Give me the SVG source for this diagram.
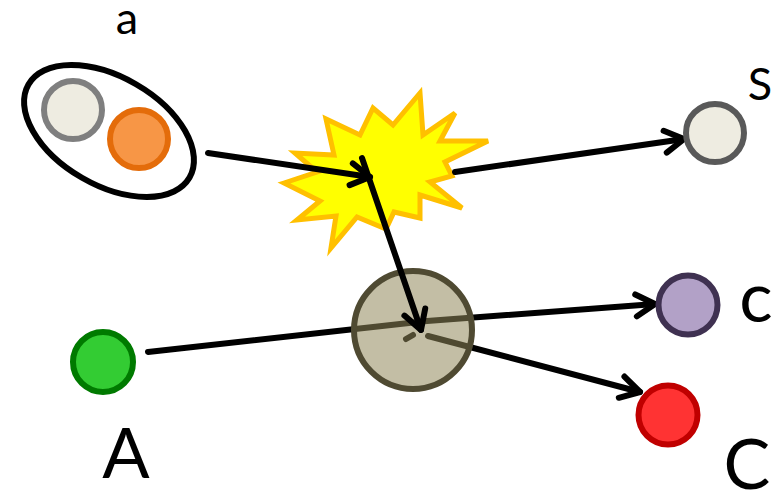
<svg xmlns="http://www.w3.org/2000/svg" width="784" height="495" viewBox="0 0 784 495">
  <style>
    .conn { fill: none; stroke: #000; stroke-width: 6; stroke-linecap: round; stroke-linejoin: round; }
    .ball { stroke-width: 6; }
    .lbl { font-family: Lato, "Open Sans", "Liberation Sans", sans-serif; fill: #000; text-anchor: middle; }
    .small { font-size: 45px; }
    .big { font-size: 70px; }
  </style>
  <defs>
    <marker id="arrow" markerUnits="userSpaceOnUse" markerWidth="40" markerHeight="40" refX="0" refY="0" viewBox="-30 -20 40 40" orient="auto" overflow="visible">
      <path d="M -19 -11 L 0 0 L -19 11" fill="none" stroke="#000" stroke-width="6" stroke-linecap="round" stroke-linejoin="round"/>
    </marker>
  </defs>

  <rect width="784" height="495" fill="#fff"/>

  <!-- projectile pair -->
  <g id="node-a">
    <ellipse cx="109" cy="131" rx="93" ry="54" transform="rotate(30 109 131)" fill="#fff" stroke="#000" stroke-width="6"/>
    <circle class="ball" cx="73" cy="110" r="29" fill="#EEECE1" stroke="#7F7F7F"/>
    <circle class="ball" cx="139" cy="139" r="29" fill="#F79646" stroke="#E46C0A"/>
    <text class="lbl small" x="127" y="34">a</text>
  </g>

  <!-- collision burst -->
  <g id="node-burst">
    <polygon points="284,183 317,172 295,153 334,155 326,119 360,135 373,108 393,125 420,93 423,135 455,113 440,141 488,141 445,162 452,176 430,182 462,208 420,195 420,218 394,212 386,229 357,217 331,248 336,216 297,220 320,201" fill="#FFFF00" stroke="#FFC000" stroke-width="5" stroke-linejoin="miter"/>
  </g>

  <!-- connectors passing beneath the compound nucleus -->
  <g id="connectors-under">
    <path class="conn" d="M 148 352 L 427 321 L 655 304" marker-end="url(#arrow)"/>
    <path class="conn" d="M 428 336 L 640 392" marker-end="url(#arrow)"/>
    <path class="conn" d="M 406 339 L 413 335"/>
  </g>

  <!-- compound nucleus -->
  <g id="node-compound">
    <circle cx="413" cy="330" r="59" fill="#918859" fill-opacity="0.545" stroke="#4F4A32" stroke-width="6"/>
  </g>

  <!-- connectors drawn on top -->
  <g id="connectors">
    <path class="conn" d="M 208 153 L 370 177" marker-end="url(#arrow)"/>
    <path class="conn" d="M 362 158 L 421 330" marker-end="url(#arrow)"/>
    <path class="conn" d="M 455 172 L 684 139" marker-end="url(#arrow)"/>
  </g>

  <g id="node-S">
    <circle class="ball" cx="715" cy="133" r="29" fill="#EEECE1" stroke="#595959"/>
    <text class="lbl small" x="760" y="100">S</text>
  </g>

  <g id="node-c">
    <circle class="ball" cx="688" cy="305" r="29.5" fill="#B2A1C7" stroke="#3F3151"/>
    <text class="lbl big" x="756" y="322">c</text>
  </g>

  <g id="node-C">
    <circle class="ball" cx="668" cy="415" r="29.5" fill="#FF3333" stroke="#C00000"/>
    <text class="lbl big" x="747" y="489">C</text>
  </g>

  <g id="node-A">
    <circle class="ball" cx="103" cy="362" r="30" fill="#33CC33" stroke="#007A00"/>
    <text class="lbl big" x="126" y="478">A</text>
  </g>
</svg>
